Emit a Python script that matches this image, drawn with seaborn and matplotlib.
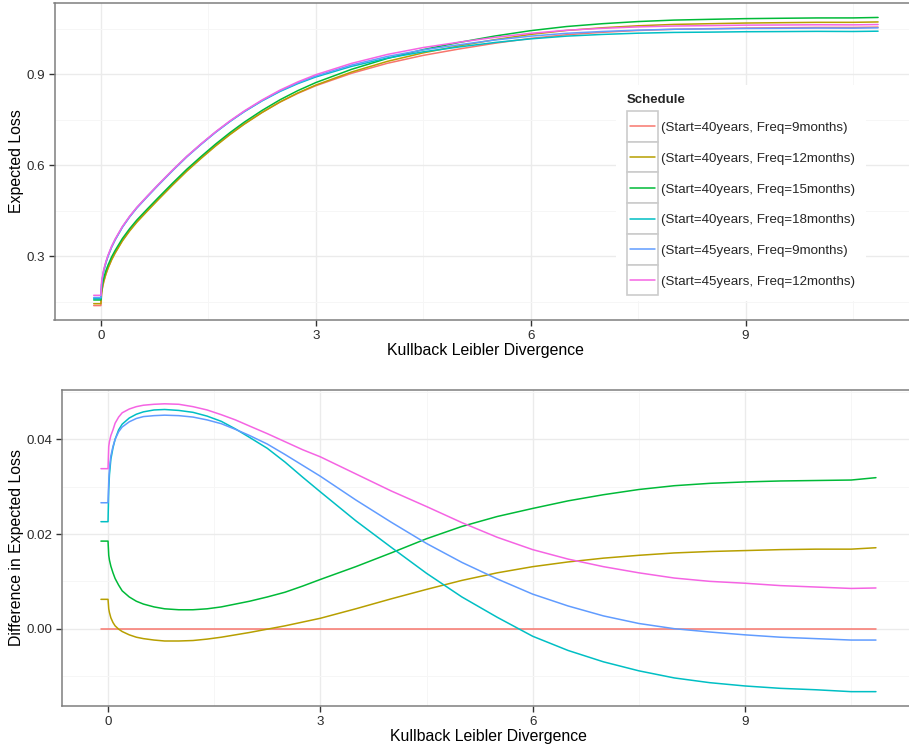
import numpy as np
import pandas as pd
import seaborn as sns
import matplotlib
matplotlib.use("Agg")
import matplotlib.pyplot as plt
from matplotlib.patches import Rectangle
from matplotlib.lines import Line2D

W, H = 909, 751

schedules = [
    "(Start=40years, Freq=9months)",
    "(Start=40years, Freq=12months)",
    "(Start=40years, Freq=15months)",
    "(Start=40years, Freq=18months)",
    "(Start=45years, Freq=9months)",
    "(Start=45years, Freq=12months)",
]
colors = ["#F8766D", "#B79F00", "#00BA38", "#00BFC4", "#619CFF", "#F564E3"]

kl = [-0.1, 0.0, 0.01, 0.02, 0.04, 0.07, 0.1, 0.15, 0.2, 0.3, 0.4, 0.5,
      0.65, 0.8, 1.0, 1.2, 1.4, 1.6, 1.8, 2.0, 2.25, 2.5, 2.75, 3.0, 3.5,
      4.0, 4.5, 5.0, 5.5, 6.0, 6.5, 7.0, 7.5, 8.0, 8.5, 9.0, 9.5, 10.0,
      10.5, 10.85]

# expected loss of the reference schedule (Start=40years, Freq=9months)
loss_ref = [0.138, 0.138, 0.177, 0.193, 0.216, 0.241, 0.261, 0.289, 0.312,
            0.352, 0.385, 0.414, 0.452, 0.489, 0.537, 0.583, 0.625, 0.665,
            0.702, 0.736, 0.774, 0.808, 0.837, 0.862, 0.903, 0.936, 0.962,
            0.983, 1.002, 1.018, 1.030, 1.038, 1.044, 1.048, 1.050, 1.052,
            1.053, 1.054, 1.054, 1.055]

# extra expected loss of the other schedules over the reference
diff_40_12 = [0.0062, 0.0062, 0.0042, 0.0034, 0.0023, 0.0013, 0.0006, -0.0001,
              -0.0006, -0.0013, -0.0018, -0.0021, -0.0024, -0.0026, -0.0026,
              -0.0025, -0.0022, -0.0018, -0.0013, -0.0008, -0.0001, 0.0006,
              0.0014, 0.0022, 0.0042, 0.0063, 0.0083, 0.0102, 0.0118, 0.0131,
              0.0141, 0.0149, 0.0155, 0.0160, 0.0163, 0.0165, 0.0167, 0.0168,
              0.0168, 0.0171]
diff_40_15 = [0.0185, 0.0185, 0.0155, 0.0145, 0.0132, 0.0118, 0.0106, 0.0092,
              0.0080, 0.0067, 0.0058, 0.0052, 0.0046, 0.0042, 0.0040, 0.0040,
              0.0042, 0.0046, 0.0052, 0.0058, 0.0067, 0.0077, 0.0090, 0.0104,
              0.0131, 0.0160, 0.0190, 0.0216, 0.0237, 0.0254, 0.0270, 0.0283,
              0.0294, 0.0302, 0.0307, 0.0310, 0.0312, 0.0313, 0.0314, 0.0319]
diff_40_18 = [0.0226, 0.0226, 0.0295, 0.0325, 0.0358, 0.0382, 0.0400, 0.0420,
              0.0432, 0.0445, 0.0453, 0.0458, 0.0462, 0.0463, 0.0461, 0.0457,
              0.0449, 0.0438, 0.0422, 0.0404, 0.0381, 0.0352, 0.0320, 0.0289,
              0.0228, 0.0172, 0.0117, 0.0067, 0.0024, -0.0016, -0.0046,
              -0.0070, -0.0089, -0.0104, -0.0114, -0.0121, -0.0126, -0.0129,
              -0.0133, -0.0133]
diff_45_9 = [0.0266, 0.0266, 0.0310, 0.0338, 0.0365, 0.0385, 0.0400, 0.0416,
             0.0426, 0.0437, 0.0444, 0.0448, 0.0450, 0.0451, 0.0450, 0.0447,
             0.0441, 0.0433, 0.0421, 0.0408, 0.0390, 0.0368, 0.0345, 0.0322,
             0.0272, 0.0225, 0.0180, 0.0140, 0.0105, 0.0073, 0.0048, 0.0027,
             0.0011, 0.0000, -0.0007, -0.0013, -0.0018, -0.0021, -0.0024,
             -0.0024]
diff_45_12 = [0.0338, 0.0338, 0.0385, 0.0395, 0.0408, 0.0420, 0.0434, 0.0447,
              0.0456, 0.0464, 0.0469, 0.0472, 0.0474, 0.0475, 0.0474, 0.0469,
              0.0462, 0.0452, 0.0441, 0.0428, 0.0412, 0.0395, 0.0378, 0.0363,
              0.0327, 0.0291, 0.0258, 0.0224, 0.0193, 0.0167, 0.0147, 0.0131,
              0.0118, 0.0107, 0.0100, 0.0096, 0.0091, 0.0088, 0.0085, 0.0086]

x_ticks = [0, 3, 6, 9]
x_tick_labels = ["0", "3", "6", "9"]
loss_ticks = [0.3, 0.6, 0.9]
loss_tick_labels = ["0.3", "0.6", "0.9"]
diff_ticks = [0.00, 0.02, 0.04]
diff_tick_labels = ["0.00", "0.02", "0.04"]

# ---- long-form table -------------------------------------------------------
ref = np.array(loss_ref)
extra = [np.zeros_like(ref), np.array(diff_40_12), np.array(diff_40_15),
         np.array(diff_40_18), np.array(diff_45_9), np.array(diff_45_12)]
frames = []
for name, d in zip(schedules, extra):
    loss = ref + d
    frames.append(pd.DataFrame({"kl": kl, "loss": loss,
                                "diff": loss - ref, "Schedule": name}))
df = pd.concat(frames, ignore_index=True)

# ---- styling ---------------------------------------------------------------
sns.set_theme(style="white")
plt.rcParams["font.family"] = ["Liberation Sans", "DejaVu Sans"]

fig = plt.figure(figsize=(W / 100, H / 100), dpi=100)
fig.patch.set_facecolor("white")


def fx(px):
    return px / W


def fy(py):
    return 1 - py / H


# panels (the right edge runs past the figure border)
ax_top = fig.add_axes([fx(54.5), fy(320), 862.8 / W, 317 / H])
ax_bot = fig.add_axes([fx(62.2), fy(706), 852.5 / W, 316.3 / H])

for ax, ycol in ((ax_top, "loss"), (ax_bot, "diff")):
    sns.lineplot(data=df, x="kl", y=ycol, hue="Schedule", hue_order=schedules,
                 palette=colors, estimator=None, sort=False, legend=False,
                 linewidth=1.1, ax=ax)
    ax.set_facecolor("white")
    ax.set_xlim(-0.6475, 11.3975)
    ax.set_xticks(x_ticks, labels=x_tick_labels)
    ax.set_xticks([1.5, 4.5, 7.5, 10.5], minor=True)
    ax.grid(which="major", color="#ebebeb", linewidth=1.0)
    ax.grid(which="minor", color="#f6f6f6", linewidth=0.7)
    ax.set_axisbelow(True)
    for s in ax.spines.values():
        s.set_color("#7f7f7f")
        s.set_linewidth(1.1)
    ax.tick_params(which="major", length=4.5, width=1.0, color="#333333",
                   labelsize=9.6, labelcolor="#2b2b2b", pad=2.5,
                   bottom=True, left=True)
    ax.tick_params(which="minor", length=0)
    ax.set_xlabel("")
    ax.set_ylabel("")

ax_top.set_ylim(0.0905, 1.1345)
ax_top.set_yticks(loss_ticks, labels=loss_tick_labels)
ax_top.set_yticks([0.15, 0.45, 0.75, 1.05], minor=True)

ax_bot.set_ylim(-0.01633, 0.05048)
ax_bot.set_yticks(diff_ticks, labels=diff_tick_labels)
ax_bot.set_yticks([-0.01, 0.01, 0.03, 0.05], minor=True)

# axis titles
fig.text(fx(485), fy(351), "Kullback Leibler Divergence", ha="center",
         va="center", fontsize=11.4, color="black")
fig.text(fx(488), fy(736), "Kullback Leibler Divergence", ha="center",
         va="center", fontsize=11.4, color="black")
fig.text(fx(17), fy(161.5), "Expected Loss", ha="center", va="center",
         rotation=90, fontsize=11.4, color="black")
fig.text(fx(17), fy(548), "Difference in Expected Loss", ha="center",
         va="center", rotation=90, fontsize=11.4, color="black")

# legend inside the upper panel
fig.add_artist(Rectangle((fx(616), fy(301)), 250 / W, 216 / H,
                         transform=fig.transFigure, facecolor="white",
                         edgecolor="none", zorder=3))
fig.text(fx(627), fy(103.3), "Schedule", fontweight="bold", fontsize=9.5,
         ha="left", va="baseline", zorder=4)
row_h = 30.8
for i, (lab, col) in enumerate(zip(schedules, colors)):
    top = 110.7 + row_h * i
    fig.add_artist(Rectangle((fx(627.3), fy(top + row_h)), 30.4 / W, row_h / H,
                             transform=fig.transFigure, facecolor="white",
                             edgecolor="#cccccc", linewidth=1.2, zorder=4))
    cy = top + row_h / 2
    fig.add_artist(Line2D([fx(630), fx(655)], [fy(cy), fy(cy)],
                          transform=fig.transFigure, color=col,
                          linewidth=1.1, zorder=5))
    fig.text(fx(661), fy(cy + 4.8), lab, fontsize=9.6, ha="left",
             va="baseline", zorder=5)

fig.savefig("out.png", dpi=100, facecolor="white")
